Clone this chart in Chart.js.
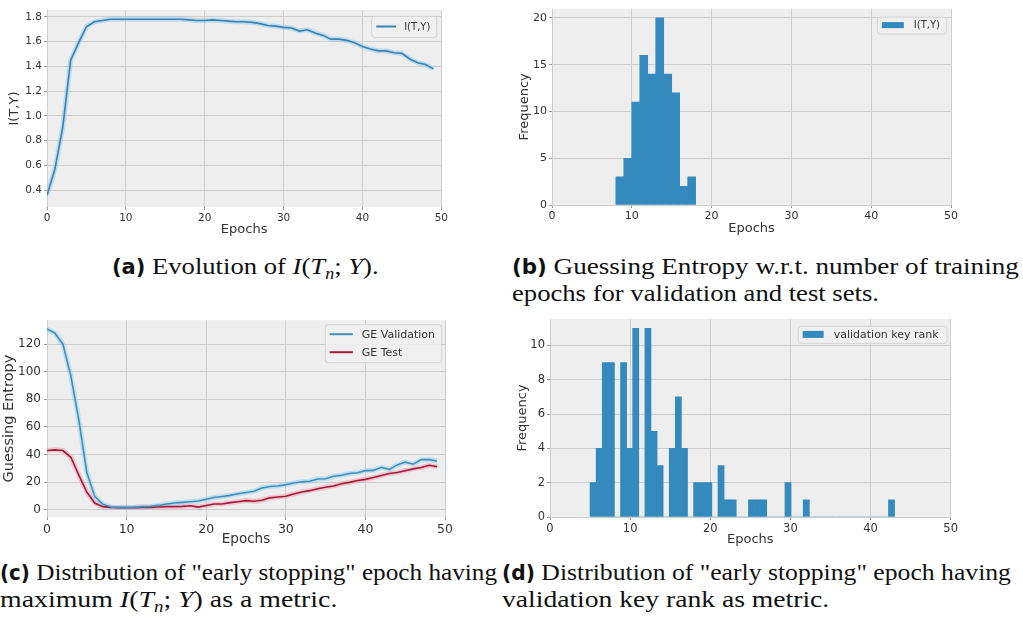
<!DOCTYPE html>
<html lang="en">
<head>
<meta charset="UTF-8">
<title>Mutual information and early stopping</title>
<script src="https://cdn.jsdelivr.net/npm/chart.js"></script>
<style>
  body { margin: 0; background: #fff; width: 1023px; height: 621px; position: relative; overflow: hidden; }
  .panel { position: absolute; }
  .cap { position: absolute; font-family: 'Liberation Serif', 'Times New Roman', serif; font-size: 24px; line-height: 26px; color: #111; white-space: nowrap; }
  .cap b { font-family: 'DejaVu Sans Condensed', 'DejaVu Sans', sans-serif; font-weight: bold; font-size: 21px; }
  .cap sub { font-size: 0.68em; vertical-align: -0.3em; line-height: 0; }
  .ln { display: block; transform-origin: 0 50%; }
</style>
</head>
<body>
<div class="panel" style="left:0;top:0"><canvas id="chartA" width="450" height="240"></canvas></div>
<div class="panel" style="left:505px;top:0"><canvas id="chartB" width="455" height="240"></canvas></div>
<div class="panel" style="left:0;top:310px"><canvas id="chartC" width="455" height="240"></canvas></div>
<div class="panel" style="left:505px;top:310px"><canvas id="chartD" width="455" height="240"></canvas></div>

<div class="cap" style="left:112px;top:253px">
  <span class="ln" style="transform:scaleX(1.11)"><b>(a)</b> Evolution of <i>I</i>(<i>T<sub>n</sub></i>; <i>Y</i>).</span>
</div>
<div class="cap" style="left:512px;top:253px">
  <span class="ln" style="transform:scaleX(1.13)"><b>(b)</b> Guessing Entropy w.r.t. number of training</span>
  <span class="ln" style="transform:scaleX(1.11)">epochs for validation and test sets.</span>
</div>
<div class="cap" style="left:0;top:559px">
  <span class="ln" style="transform:scaleX(1.05)"><b>(c)</b> Distribution of "early stopping" epoch having</span>
  <span class="ln" style="transform:scaleX(1.16)">maximum <i>I</i>(<i>T<sub>n</sub></i>; <i>Y</i>) as a metric.</span>
</div>
<div class="cap" style="left:502px;top:559px">
  <span class="ln" style="transform:scaleX(1.07)"><b>(d)</b> Distribution of "early stopping" epoch having</span>
  <span class="ln" style="transform:scaleX(1.15)">validation key rank as metric.</span>
</div>

<script>
// ---- data ----
const epochs = [0, 1, 2, 3, 4, 5, 6, 7, 8, 9, 10, 11, 12, 13, 14, 15, 16, 17, 18, 19,
                20, 21, 22, 23, 24, 25, 26, 27, 28, 29, 30, 31, 32, 33, 34, 35, 36, 37, 38, 39,
                40, 41, 42, 43, 44, 45, 46, 47, 48, 49];
const epochTicks = [0, 10, 20, 30, 40, 50];

const miValues = [0.36, 0.57, 0.91, 1.45, 1.59, 1.72, 1.76, 1.77, 1.78, 1.78,
                  1.78, 1.78, 1.78, 1.78, 1.78, 1.78, 1.78, 1.78, 1.775, 1.77,
                  1.77, 1.775, 1.77, 1.765, 1.76, 1.76, 1.755, 1.745, 1.73, 1.725,
                  1.715, 1.71, 1.685, 1.695, 1.67, 1.65, 1.62, 1.62, 1.61, 1.59,
                  1.56, 1.54, 1.525, 1.525, 1.51, 1.505, 1.46, 1.43, 1.415, 1.38];
const miTicks = [0.4, 0.6, 0.8, 1.0, 1.2, 1.4, 1.6, 1.8];

const geValidation = [131, 128, 120, 97, 65, 27, 9.5, 4, 2, 1.5,
                      1.5, 1.7, 2.2, 2.4, 3.1, 4.1, 4.8, 5.3, 5.8, 6.3,
                      7.6, 8.8, 9.6, 10.4, 11.5, 12.5, 13.4, 15.8, 16.8, 17.2,
                      18.2, 19.4, 20.2, 20.6, 22.2, 22.4, 24.2, 25, 26.2, 26.8,
                      28.3, 28.5, 30.7, 29.2, 32.5, 34.5, 33, 36.3, 36.3, 35.3];
const geTest = [42.9, 43.4, 42.9, 38, 25, 12.8, 4.8, 2.2, 1.7, 1.5,
                1.5, 1.5, 1.7, 1.7, 1.9, 2.2, 2.2, 2.4, 2.9, 1.9,
                3.1, 4.1, 4.1, 5.1, 5.8, 6.6, 6.1, 6.8, 8.6, 9.2,
                9.8, 11.4, 12.8, 13.8, 15.2, 16.3, 17.2, 18.8, 19.8, 21.2,
                22, 23.3, 24.8, 26.3, 27, 28.3, 29.6, 30.6, 32.2, 31.2];
const geTicks = [0, 20, 40, 60, 80, 100, 120];

// histogram of early-stopping epoch, max I(T;Y)
const miBinStart = 8, miBinWidth = 1;
const miCounts = [3, 5, 11, 16, 14, 20, 14, 12, 2, 3];
const miFreqTicks = [0, 5, 10, 15, 20];

// histogram of early-stopping epoch, validation key rank (50 bins)
const rankBinStart = 5, rankBinWidth = 0.76;
const rankCounts = [2, 4, 9, 9, 0, 9, 4, 11, 0, 11,
                    5, 3, 0, 4, 7, 4, 0, 2, 2, 2,
                    0, 3, 1, 1, 0, 0, 1, 1, 1, 0,
                    0, 0, 2, 0, 0, 1, 0, 0, 0, 0,
                    0, 0, 0, 0, 0, 0, 0, 0, 0, 1];
const rankFreqTicks = [0, 2, 4, 6, 8, 10];

// ---- style ----
const BLUE = '#348ABD', RED = '#A60628';
const gridColor = '#cdcdcd', tickColor = '#999';
const txt = '#333';

Chart.defaults.font.family = "'DejaVu Sans', sans-serif";
Chart.defaults.color = txt;
Chart.defaults.animation = false;

const plotBg = {
  id: 'plotBg',
  beforeDraw(chart) {
    const { ctx, chartArea: a } = chart;
    ctx.save();
    ctx.fillStyle = '#eeeeee';
    ctx.fillRect(a.left, a.top, a.width, a.height);
    ctx.restore();
  }
};

// matplotlib-like framed legend inside the plot, top right
const boxLegend = {
  id: 'boxLegend',
  afterDraw(chart, args, o) {
    const { ctx, chartArea: a } = chart;
    const items = chart.data.datasets.filter(d => d.label);
    ctx.save();
    ctx.font = o.size + "px 'DejaVu Sans', sans-serif";
    const textW = Math.max(...items.map(d => ctx.measureText(d.label).width));
    const w = o.padL + o.sample + o.gap + textW + o.padR;
    const h = o.padT * 2 + items.length * o.row;
    const x = a.right - o.right - w, y = a.top + o.top;
    ctx.fillStyle = 'rgba(240,240,240,0.9)';
    ctx.strokeStyle = '#d4d4d4';
    ctx.lineWidth = 1;
    ctx.beginPath();
    ctx.roundRect(x + 0.5, y + 0.5, w, h, 3);
    ctx.fill();
    ctx.stroke();
    ctx.textBaseline = 'middle';
    items.forEach((d, i) => {
      const cy = y + o.padT + o.row * (i + 0.5);
      const sx = x + o.padL;
      if (chart.config.type === 'bar') {
        ctx.fillStyle = d.backgroundColor;
        ctx.fillRect(sx, cy - o.patch / 2, o.sample, o.patch);
      } else {
        ctx.strokeStyle = d.borderColor;
        ctx.lineWidth = 2;
        ctx.beginPath();
        ctx.moveTo(sx, cy);
        ctx.lineTo(sx + o.sample, cy);
        ctx.stroke();
      }
      ctx.fillStyle = '#333';
      ctx.fillText(d.label, sx + o.sample + o.gap, cy + 0.5);
    });
    ctx.restore();
  }
};

function scaleX(p) {
  return {
    type: 'linear', min: 0, max: 50, offset: false,
    afterBuildTicks: s => { s.ticks = epochTicks.map(v => ({ value: v })); },
    afterFit: s => { s.height = p.h; },
    ticks: { font: { size: p.tick }, padding: 2, maxRotation: 0, autoSkip: false, color: txt },
    grid: { color: gridColor, tickColor: tickColor, tickLength: 3, offset: false },
    border: { display: false },
    title: { display: true, text: 'Epochs', color: txt, font: { size: p.title }, padding: { top: 0, bottom: p.tpad } }
  };
}

function scaleY(p) {
  return {
    type: 'linear', min: p.min, max: p.max,
    afterBuildTicks: s => { s.ticks = p.ticks.map(v => ({ value: v })); },
    afterFit: s => { s.width = p.w; },
    ticks: { font: { size: p.tick }, padding: p.tickPad || 2, color: txt, callback: p.fmt || (v => v) },
    grid: { color: gridColor, tickColor: tickColor, tickLength: 3 },
    border: { display: false },
    title: { display: true, text: p.text, color: txt, font: { size: p.title }, padding: { top: p.tpad, bottom: 0 } }
  };
}

function pts(xs, ys) { return xs.map((x, i) => ({ x: x, y: ys[i] })); }
function bins(start, width, counts) {
  return counts.map((c, i) => ({ x: start + (i + 0.5) * width, y: c }));
}

// (a) I(T,Y) over epochs
new Chart(document.getElementById('chartA'), {
  type: 'line',
  data: {
    datasets: [
      { label: 'I(T,Y)', data: pts(epochs, miValues), borderColor: '#3b82b3', borderWidth: 1.6, pointRadius: 0, order: 0 },
      { data: pts(epochs, miValues), borderColor: 'rgba(150,205,240,0.55)', borderWidth: 5, pointRadius: 0, order: 1 }
    ]
  },
  options: {
    responsive: false,
    layout: { padding: { top: 10, right: 8, left: 0, bottom: 0 } },
    plugins: {
      legend: { display: false }, tooltip: { enabled: false },
      boxLegend: { size: 10, row: 19, padT: 1, padL: 5, padR: 6, sample: 20, gap: 8, patch: 6, right: 5, top: 6 }
    },
    scales: {
      x: scaleX({ h: 33, tick: 10.5, title: 13, tpad: 3 }),
      y: scaleY({ min: 0.265, max: 1.855, ticks: miTicks, w: 47, tick: 10.5, title: 13, tpad: 7, text: 'I(T,Y)', fmt: v => v.toFixed(1) })
    }
  },
  plugins: [plotBg, boxLegend]
});

// (b) histogram, early stopping by max I(T,Y)
new Chart(document.getElementById('chartB'), {
  type: 'bar',
  data: {
    datasets: [
      { label: 'I(T,Y)', data: bins(miBinStart, miBinWidth, miCounts), backgroundColor: BLUE, barPercentage: 1, categoryPercentage: 1 }
    ]
  },
  options: {
    responsive: false,
    layout: { padding: { top: 7, right: 9, left: 0, bottom: 0 } },
    plugins: {
      legend: { display: false }, tooltip: { enabled: false },
      boxLegend: { size: 10, row: 17, padT: 0, padL: 5, padR: 6, sample: 22, gap: 10, patch: 6, right: 5, top: 8 }
    },
    scales: {
      x: scaleX({ h: 35, tick: 11, title: 13, tpad: 4 }),
      y: scaleY({ min: 0, max: 21, ticks: miFreqTicks, w: 47, tick: 11, title: 13, tpad: 12, text: 'Frequency' })
    }
  },
  plugins: [plotBg, boxLegend]
});

// (c) guessing entropy, validation vs test
new Chart(document.getElementById('chartC'), {
  type: 'line',
  data: {
    datasets: [
      { label: 'GE Validation', data: pts(epochs, geValidation), borderColor: '#3f8fba', borderWidth: 1.6, pointRadius: 0, order: 0 },
      { label: 'GE Test', data: pts(epochs, geTest), borderColor: '#a5183a', borderWidth: 1.6, pointRadius: 0, order: 0 },
      { data: pts(epochs, geValidation), borderColor: 'rgba(150,210,240,0.5)', borderWidth: 5, pointRadius: 0, order: 1 },
      { data: pts(epochs, geTest), borderColor: 'rgba(240,160,180,0.5)', borderWidth: 5, pointRadius: 0, order: 1 }
    ]
  },
  options: {
    responsive: false,
    layout: { padding: { top: 9, right: 9, left: 0, bottom: 0 } },
    plugins: {
      legend: { display: false }, tooltip: { enabled: false },
      boxLegend: { size: 11, row: 18, padT: 1, padL: 5, padR: 6, sample: 23, gap: 9, patch: 6, right: 4, top: 4 }
    },
    scales: {
      x: scaleX({ h: 33, tick: 12.5, title: 13.5, tpad: 2 }),
      y: scaleY({ min: -5.3, max: 137.4, ticks: geTicks, w: 47, tick: 12, tickPad: 3, title: 14.5, tpad: 1, text: 'Guessing Entropy' })
    }
  },
  plugins: [plotBg, boxLegend]
});

// (d) histogram, early stopping by validation key rank
new Chart(document.getElementById('chartD'), {
  type: 'bar',
  data: {
    datasets: [
      { label: 'validation key rank', data: bins(rankBinStart, rankBinWidth, rankCounts), backgroundColor: BLUE, barPercentage: 1, categoryPercentage: 1 }
    ]
  },
  options: {
    responsive: false,
    layout: { padding: { top: 8, right: 9, left: 0, bottom: 0 } },
    plugins: {
      legend: { display: false }, tooltip: { enabled: false },
      boxLegend: { size: 11, row: 17, padT: 0, padL: 5, padR: 8, sample: 21, gap: 10, patch: 7, right: 4, top: 7 }
    },
    scales: {
      x: scaleX({ h: 33, tick: 11.5, title: 13, tpad: 3 }),
      y: scaleY({ min: 0, max: 11.55, ticks: rankFreqTicks, w: 45, tick: 11.5, title: 13, tpad: 10, text: 'Frequency' })
    }
  },
  plugins: [plotBg, boxLegend]
});
</script>
</body>
</html>
